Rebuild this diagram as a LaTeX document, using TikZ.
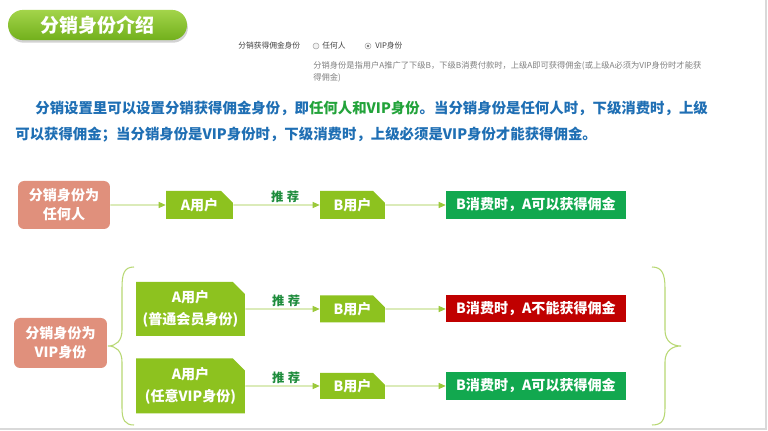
\documentclass[tikz,border=0pt]{standalone}
\usepackage{fontspec}
\setmainfont{Noto Sans CJK SC}
\usetikzlibrary{arrows.meta,shapes.misc,shadows}

\definecolor{pilltop}{HTML}{A3D44A}
\definecolor{pilldark}{HTML}{72B01C}
\definecolor{usrgreen}{HTML}{8DC21F}
\definecolor{okgreen}{HTML}{12A84F}
\definecolor{nored}{HTML}{C00000}
\definecolor{srcpink}{HTML}{E0907C}
\definecolor{linegreen}{HTML}{9BC93A}
\definecolor{bracegreen}{HTML}{B8D873}
\definecolor{parablue}{HTML}{1F6FB4}
\definecolor{parahl}{HTML}{22A33A}
\definecolor{recgreen}{HTML}{1E8C3C}

\tikzset{
  srcbox/.style={rectangle, rounded corners=0.12cm, fill=srcpink, text=white,
    align=center, inner sep=0pt, font=\bfseries\fontsize{8}{11}\selectfont},
  usrbox/.style={chamfered rectangle, chamfered rectangle corners=north east,
    chamfered rectangle xsep=0.12cm, chamfered rectangle ysep=0.12cm,
    fill=usrgreen, text=white, align=center, inner sep=0pt,
    font=\bfseries\fontsize{8}{12.5}\selectfont},
  resbox/.style={rectangle, fill=okgreen, text=white, inner sep=0pt,
    minimum width=3.6cm, minimum height=0.56cm,
    font=\bfseries\fontsize{8}{10}\selectfont},
  flow/.style={draw=linegreen, line width=0.5pt, -{Triangle[length=4pt,width=3.5pt]}},
  rec/.style={text=recgreen, font=\bfseries\fontsize{7}{8}\selectfont, inner sep=1pt},
  brace/.style={draw=bracegreen, line width=0.6pt},
  formtext/.style={anchor=west, inner sep=0pt, text=black!75, font=\fontsize{4.4}{6}\selectfont},
  desctext/.style={anchor=west, inner sep=0pt, text=black!50, font=\fontsize{4.7}{6}\selectfont},
  paraline/.style={anchor=west, inner sep=0pt, text=parablue, font=\bfseries\fontsize{8.2}{10}\selectfont},
  radio/.style={circle, draw=black!35, fill=black!5, line width=0.3pt, minimum size=0.12cm, inner sep=0pt}
}

\begin{document}
\begin{tikzpicture}[x=0.02cm,y=-0.02cm]
  \fill[white] (0,0) rectangle (768,431);
  \useasboundingbox (0,0) rectangle (768,431);
  \draw[black!15, line width=0.6pt] (0,429) -- (766,429) -- (766,0);

  % titel
  \node[rectangle, rounded corners=0.3cm, minimum width=3.58cm, minimum height=0.6cm,
    top color=pilltop, bottom color=pilldark, draw=none,
    drop shadow={opacity=0.35, shadow xshift=0.5pt, shadow yshift=-1.5pt},
    text=white, font=\bfseries\fontsize{10.8}{12}\selectfont] (title) at (97.5,25) {分销身份介绍};

  % formulier
  \node[formtext] (formlbl) at (238,46) {分销获得佣金身份};
  \node[radio] (optany) at (316,46) {};
  \node[formtext] (anylbl) at (322,46) {任何人};
  \node[radio, fill=white] (optvip) at (368,46) {};
  \fill[black!55] (optvip) circle (1.3);
  \node[formtext] (viplbl) at (375,46) {VIP身份};
  \node[desctext] (desc1) at (313,66) {分销身份是指用户A推广了下级B，下级B消费付款时，上级A即可获得佣金(或上级A必须为VIP身份时才能获};
  \node[desctext] (desc2) at (313,78) {得佣金)};

  % uitleg
  \node[paraline] (para1) at (35,108) {分销设置里可以设置分销获得佣金身份，即\textcolor{parahl}{任何人和VIP身份}。当分销身份是任何人时，下级消费时，上级};
  \node[paraline] (para2) at (15,135) {可以获得佣金；当分销身份是VIP身份时，下级消费时，上级必须是VIP身份才能获得佣金。};

  % rij 1: iedereen
  \node[srcbox, minimum width=1.84cm, minimum height=0.96cm] (anysrc) at (64,205) {分销身份为\\任何人};
  \node[usrbox, minimum width=1.34cm, minimum height=0.56cm] (anya) at (199.5,205) {A用户};
  \node[usrbox, minimum width=1.3cm, minimum height=0.56cm] (anyb) at (352.5,205) {B用户};
  \node[resbox] (anyres) at (536,205) {B消费时，A可以获得佣金};
  \draw[flow] (anysrc) -- (anya);
  \draw[flow] (anya) -- (anyb) node[rec, pos=0.6, above] {推\hspace{2pt}荐};
  \draw[flow] (anyb) -- (anyres);

  % rij 2 en 3: VIP
  \node[srcbox, minimum width=1.86cm, minimum height=1.0cm] (vipsrc) at (60.5,343) {分销身份为\\VIP身份};
  \node[usrbox, minimum width=2.18cm, minimum height=1.08cm] (mema) at (190.5,309) {A用户\\(普通会员身份)};
  \node[usrbox, minimum width=1.3cm, minimum height=0.54cm] (memb) at (352.5,309) {B用户};
  \node[resbox, fill=nored, minimum height=0.54cm] (memres) at (536,309) {B消费时，A不能获得佣金};
  \draw[flow] (mema) -- (memb) node[rec, pos=0.55, above] {推\hspace{2pt}荐};
  \draw[flow] (memb) -- (memres);

  \node[usrbox, minimum width=2.18cm, minimum height=1.1cm] (vipa) at (190.5,386) {A用户\\(任意VIP身份)};
  \node[usrbox, minimum width=1.3cm, minimum height=0.52cm] (vipb) at (352.5,386) {B用户};
  \node[resbox] (vipres) at (536,386) {B消费时，A可以获得佣金};
  \draw[flow] (vipa) -- (vipb) node[rec, pos=0.55, above] {推\hspace{2pt}荐};
  \draw[flow] (vipb) -- (vipres);

  % accolades
  \draw[brace] (134,267) .. controls (124,267) and (122,274) .. (122,288) -- (122,330)
    .. controls (122,341) and (116,346) .. (108,346)
    .. controls (116,346) and (122,351) .. (122,362) -- (122,408)
    .. controls (122,420) and (125,425) .. (134,425);
  \draw[brace] (652,267) .. controls (662,267) and (665,274) .. (665,288) -- (665,330)
    .. controls (665,341) and (672,346) .. (681,346)
    .. controls (672,346) and (665,351) .. (665,362) -- (665,408)
    .. controls (665,420) and (662,425) .. (652,425);
\end{tikzpicture}
\end{document}
